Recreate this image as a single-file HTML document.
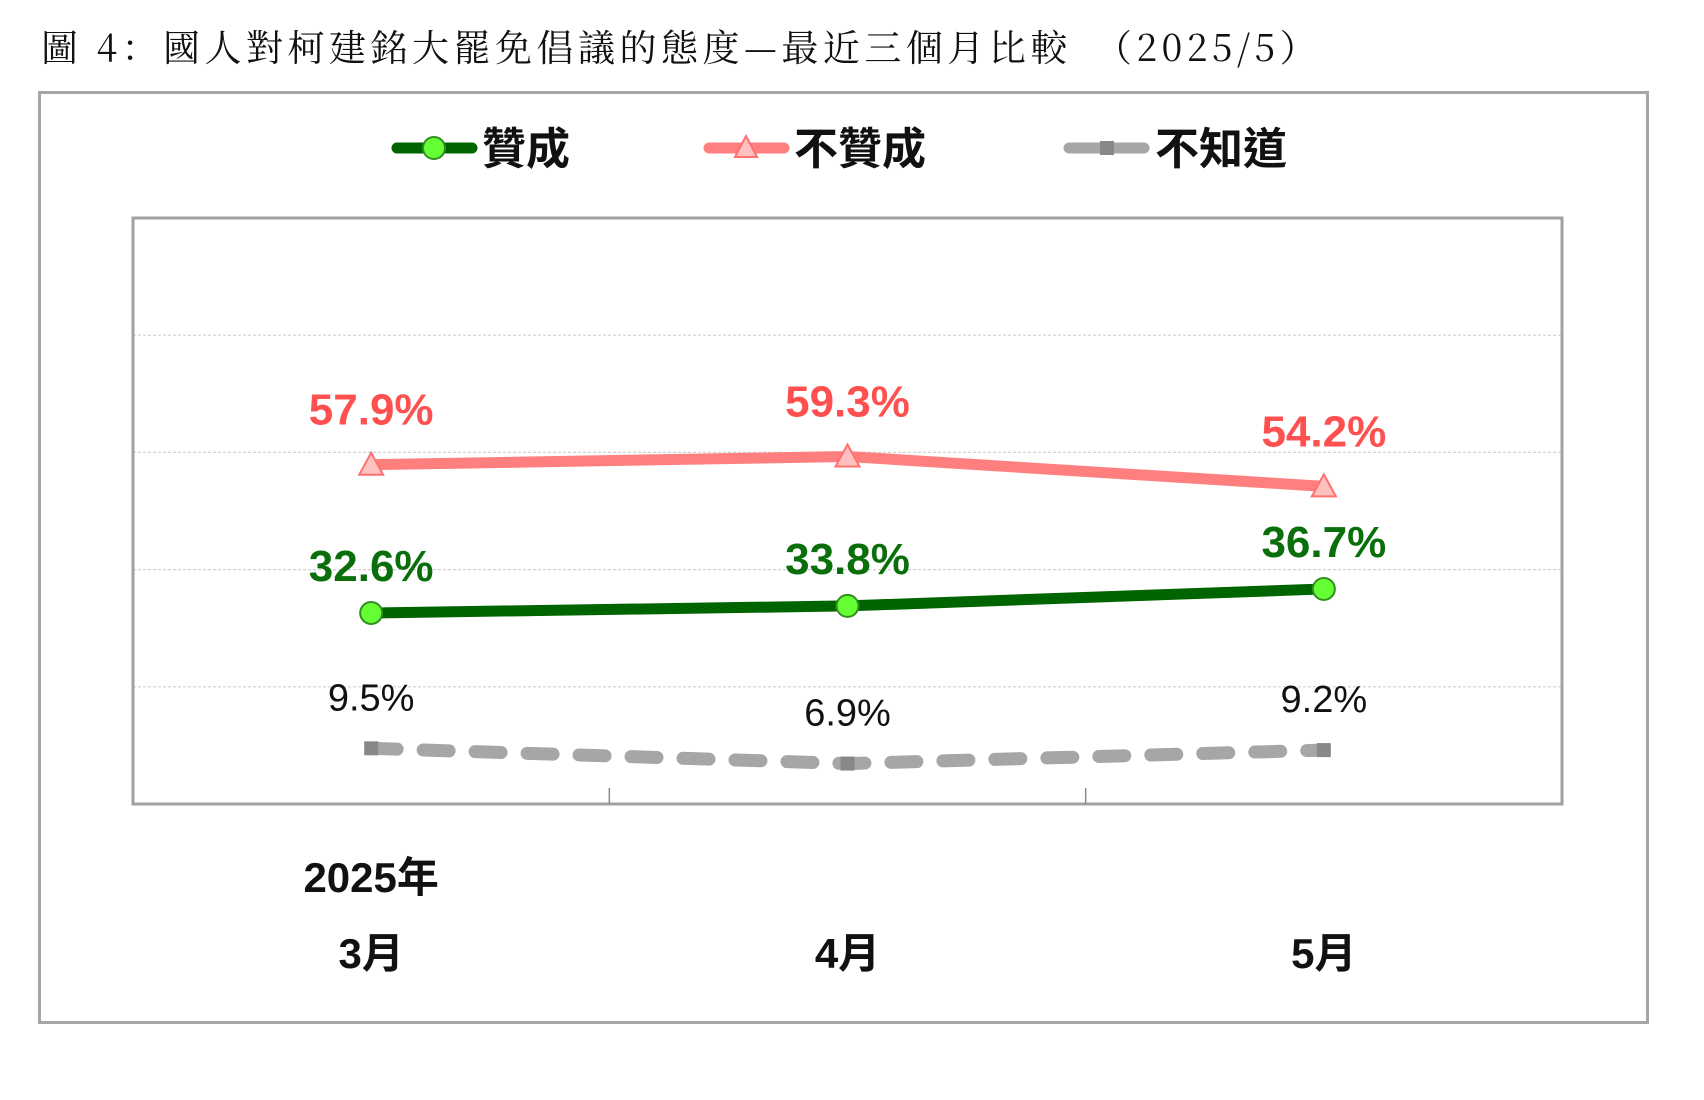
<!DOCTYPE html>
<html><head><meta charset="utf-8">
<style>
html,body{margin:0;padding:0;background:#fff;}
body{width:1704px;height:1100px;overflow:hidden;position:relative;}
</style></head>
<body>
<svg width="1704" height="1100" xmlns="http://www.w3.org/2000/svg" style="position:absolute;left:0;top:0">
<text x="41" y="61" font-family="'Noto Serif CJK SC','Liberation Serif',serif" font-size="37" letter-spacing="4.5" fill="#111">圖 4：國人對柯建銘大罷免倡議的態度—最近三個月比較　（2025/5）</text>
<rect x="39.5" y="92.5" width="1608" height="930" fill="none" stroke="#a6a6a6" stroke-width="3"/>
<g>
 <g>
  <line x1="397" y1="148" x2="472" y2="148" stroke="#006400" stroke-width="11" stroke-linecap="round"/>
  <circle cx="434" cy="148" r="11" fill="#66ff33" stroke="#2f8f1f" stroke-width="2"/>
  <text x="482" y="164" font-family="'Liberation Sans','Noto Sans CJK TC',sans-serif" font-size="44" font-weight="bold" fill="#111">贊成</text>
 </g>
 <g>
  <line x1="709" y1="148" x2="784" y2="148" stroke="#ff7f7f" stroke-width="11" stroke-linecap="round"/>
  <polygon points="746,136 757,157 735,157" fill="#ffc0c0" stroke="#ff7070" stroke-width="2"/>
  <text x="794" y="164" font-family="'Liberation Sans','Noto Sans CJK TC',sans-serif" font-size="44" font-weight="bold" fill="#111">不贊成</text>
 </g>
 <g>
  <line x1="1069" y1="148" x2="1144" y2="148" stroke="#a6a6a6" stroke-width="11" stroke-linecap="round"/>
  <rect x="1100" y="141" width="14" height="14" fill="#888"/>
  <text x="1155" y="164" font-family="'Liberation Sans','Noto Sans CJK TC',sans-serif" font-size="44" font-weight="bold" fill="#111">不知道</text>
 </g>
</g>
<g id="plot"></g>
</svg>
<script>
const categories = ["3月", "4月", "5月"];
const approve = [32.6, 33.8, 36.7];
const disapprove = [57.9, 59.3, 54.2];
const unknown = [9.5, 6.9, 9.2];
const gridValues = [20, 40, 60, 80];

const NS = "http://www.w3.org/2000/svg";
const plot = document.getElementById("plot");
const L = 133, R = 1562, T = 218, B = 804;
const yMin = 0, yMax = 100;
function yScale(v){ return B - (v - yMin) / (yMax - yMin) * (B - T); }
function bandW(){ return (R - L) / categories.length; }
function xScale(i){ return L + bandW() * (i + 0.5); }
function mk(tag, attrs){ const e = document.createElementNS(NS, tag); for (const k in attrs) e.setAttribute(k, attrs[k]); plot.appendChild(e); return e; }

gridValues.forEach(function(g){
  const ln = mk("line", {x1: L, x2: R, y1: yScale(g), y2: yScale(g), stroke: "#d0d0d0", "stroke-width": 1.2, "stroke-dasharray": "3 2"});
  
  
});
const frame = mk("rect", {x: L, y: T, width: R - L, height: B - T, fill: "none", stroke: "#a0a0a0", "stroke-width": 3});


for (let i = 1; i < categories.length; i++){
  const tk = mk("line", {x1: L + bandW() * i, x2: L + bandW() * i, y1: B - 16, y2: B, stroke: "#8a8a8a", "stroke-width": 1.5});
  
  
}
categories.forEach(function(c, i){
  const t = mk("text", {x: xScale(i), y: 968, "text-anchor": "middle", "font-family": "'Liberation Sans','Noto Sans CJK TC',sans-serif", "font-size": 42, "font-weight": "bold", fill: "#111"});
  t.textContent = c;
  
  
});
const yr = mk("text", {x: xScale(0), y: 892, "text-anchor": "middle", "font-family": "'Liberation Sans','Noto Sans CJK TC',sans-serif", "font-size": 42, "font-weight": "bold", fill: "#111"});
yr.textContent = "2025年";



function pts(arr){ return arr.map(function(v, i){ return xScale(i) + "," + yScale(v); }).join(" "); }

// unknown series
const ul = mk("polyline", {points: pts(unknown), fill: "none", stroke: "#a6a6a6", "stroke-width": 13, "stroke-dasharray": "26 26", "stroke-linecap": "round"});


unknown.forEach(function(v, i){
  const x = xScale(i), y = yScale(v);
  const m = mk("rect", {x: x - 7, y: y - 7, width: 14, height: 14, fill: "#888"});
  
  
  const t = mk("text", {x: x, y: y - 38, "text-anchor": "middle", "font-family": "'Liberation Sans',sans-serif", "font-size": 38, fill: "#111"});
  t.textContent = v.toFixed(1) + "%";
  
  
});

// disapprove series
const dl = mk("polyline", {points: pts(disapprove), fill: "none", stroke: "#ff7f7f", "stroke-width": 11, "stroke-linejoin": "round"});


disapprove.forEach(function(v, i){
  const x = xScale(i), y = yScale(v);
  const m = mk("polygon", {points: (x) + "," + (y - 12) + " " + (x + 12) + "," + (y + 10) + " " + (x - 12) + "," + (y + 10), fill: "#ffc0c0", stroke: "#ff7070", "stroke-width": 2});
  
  
  const t = mk("text", {x: x, y: y - 40, "text-anchor": "middle", "font-family": "'Liberation Sans',sans-serif", "font-size": 44, "font-weight": "bold", fill: "#ff5050"});
  t.textContent = v.toFixed(1) + "%";
  
  
});

// approve series
const al = mk("polyline", {points: pts(approve), fill: "none", stroke: "#006400", "stroke-width": 11, "stroke-linejoin": "round"});


approve.forEach(function(v, i){
  const x = xScale(i), y = yScale(v);
  const m = mk("circle", {cx: x, cy: y, r: 11, fill: "#66ff33", stroke: "#2f8f1f", "stroke-width": 2});
  
  
  const t = mk("text", {x: x, y: y - 32, "text-anchor": "middle", "font-family": "'Liberation Sans',sans-serif", "font-size": 44, "font-weight": "bold", fill: "#0a6e0a"});
  t.textContent = v.toFixed(1) + "%";
  
  
});
</script>
</body></html>
